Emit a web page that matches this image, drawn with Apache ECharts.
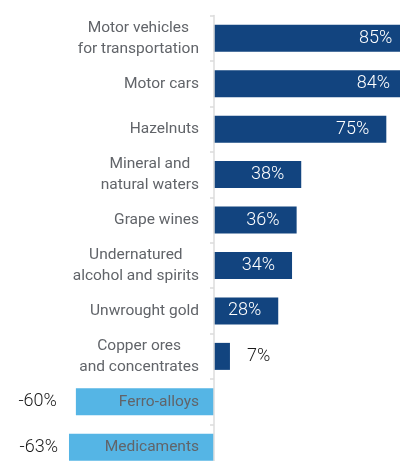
<!DOCTYPE html>
<html>
<head>
<meta charset="utf-8">
<style>html,body{margin:0;padding:0;background:#fff}#c{width:400px;height:461px}</style>
<script src="https://cdn.jsdelivr.net/npm/echarts@6/dist/echarts.min.js"></script>
</head>
<body>
<div id="c"></div>
<script>
const categories = [
  'Motor vehicles\nfor transportation',
  'Motor cars',
  'Hazelnuts',
  'Mineral and\nnatural waters',
  'Grape wines',
  'Undernatured\nalcohol and spirits',
  'Unwrought gold',
  'Copper ores\nand concentrates',
  'Ferro-alloys',
  'Medicaments'
];
const values = [85, 84, 75, 38, 36, 34, 28, 7, -60, -63];

const POS = '#12447f', NEG = '#55b5e5';
const data = values.map((v, i) => {
  if (v < 0) {
    return {
      value: v,
      itemStyle: { color: NEG },
      label: { position: 'left', distance: i === 8 ? 19 : 11, color: '#1a1a1a' }
    };
  }
  if (v < 15) {
    return { value: v, itemStyle: { color: POS }, label: { position: 'right', distance: 17, color: '#1a1a1a' } };
  }
  return { value: v, itemStyle: { color: POS }, label: { position: 'insideRight', distance: 17, color: '#ffffff' } };
});

const LABEL_STYLE = { color: '#616469', fontSize: 15.5, fontFamily: 'Roboto', lineHeight: 21 };

const chart = echarts.init(document.getElementById('c'));
chart.setOption({
  animation: false,
  grid: { left: 0, right: -10, top: 15.5, bottom: -9, containLabel: false, outerBoundsMode: 'none' },
  xAxis: { type: 'value', min: -93, max: 85.3, show: false },
  yAxis: {
    type: 'category', data: categories, inverse: true, z: 5,
    position: 'left', offset: -214,
    axisLine: { onZero: false, lineStyle: { color: '#dcdcdc', width: 1.5 } },
    axisTick: { show: true, length: 4, lineStyle: { color: '#dcdcdc', width: 1.5 } },
    axisLabel: Object.assign({
      margin: 15, align: 'right',
      formatter: s => s.split('\n').map(t => '{c|' + t + '}').join('\n'),
      rich: { c: Object.assign({ align: 'center' }, LABEL_STYLE) }
    }, LABEL_STYLE)
  },
  series: [{
    type: 'bar', data: data, barWidth: 27,
    label: { show: true, fontSize: 18, fontFamily: 'Roboto', fontWeight: 300, formatter: p => p.value + '%' }
  }]
});
</script>
</body>
</html>
